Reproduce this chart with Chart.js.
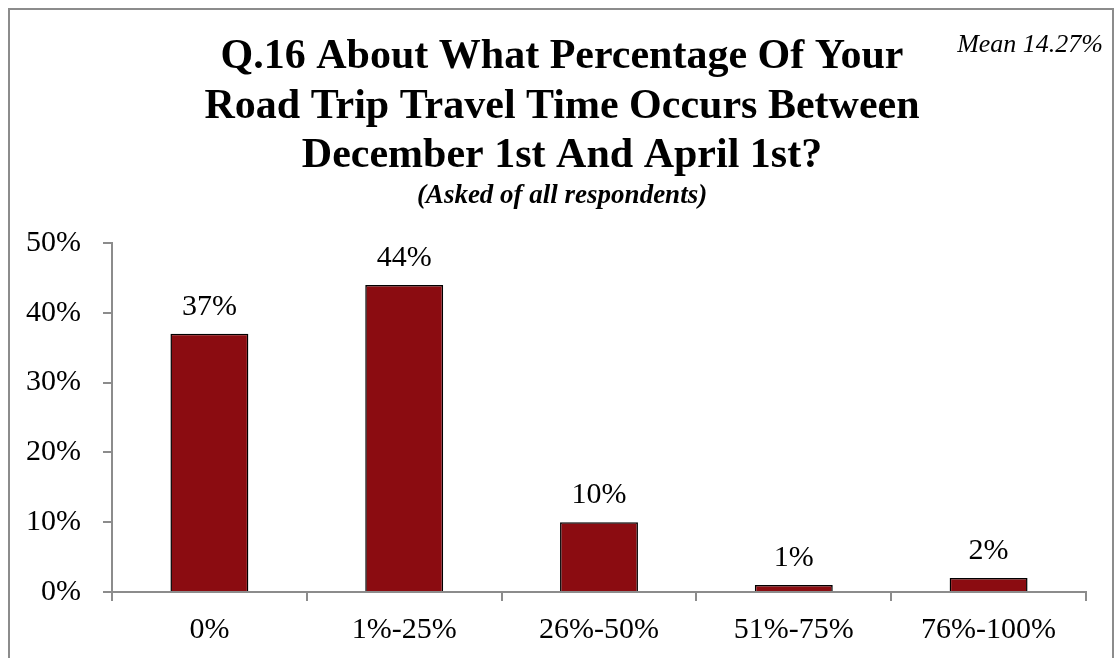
<!DOCTYPE html>
<html lang="en">
<head>
    <meta charset="UTF-8">
    <title>Q.16 Road Trip Travel Time</title>
    <script src="https://cdn.jsdelivr.net/npm/chart.js"></script>
    <style>
        html, body {
            margin: 0;
            padding: 0;
            background: #fff;
        }
        .chart-box {
            width: 1119px;
            height: 658px;
        }
    </style>
</head>
<body>
    <div class="chart-box">
        <canvas id="myBarChart" width="1119" height="658"></canvas>
    </div>

    <script>
        // chart data
        const categories = ['0%', '1%-25%', '26%-50%', '51%-75%', '76%-100%'];
        const percentValues = [37, 44, 10, 1, 2];
        const yTicks = [0, 10, 20, 30, 40, 50];
        const titleLines = ['Q.16 About What Percentage Of Your', 'Road Trip Travel Time Occurs Between', 'December 1st And April 1st?'];
        const subtitle = '(Asked of all respondents)';
        const meanText = 'Mean 14.27%';

        const serif = '"Liberation Serif", "DejaVu Serif", serif';

        // frame, titles and value labels
        const decorations = {
            id: 'decorations',
            beforeDraw(chart) {
                const c = chart.ctx;
                c.save();
                c.fillStyle = '#fff';
                c.fillRect(0, 0, chart.width, chart.height);
                c.strokeStyle = '#8c8c8c';
                c.lineWidth = 2;
                c.strokeRect(9, 9, 1104, 700);
                c.restore();
            },
            afterDraw(chart) {
                const c = chart.ctx;
                c.save();
                c.fillStyle = '#000';
                c.textAlign = 'center';
                c.textBaseline = 'middle';
                c.font = 'bold 42px ' + serif;
                const ys = [57, 107, 156];
                titleLines.forEach((t, i) => c.fillText(t, 562, ys[i]));
                c.font = 'italic bold 27px ' + serif;
                c.fillText(subtitle, 562, 196);

                c.textAlign = 'right';
                c.font = 'italic 26px ' + serif;
                c.fillText(meanText, 1103, 45);

                // value labels above the bars
                c.textAlign = 'center';
                c.font = '30px ' + serif;
                const meta = chart.getDatasetMeta(0);
                meta.data.forEach((bar, i) => {
                    c.fillText(percentValues[i] + '%', bar.x, bar.y - 27);
                });
                c.restore();
            }
        };

        const ctx = document.getElementById('myBarChart').getContext('2d');
        const myBarChart = new Chart(ctx, {
            type: 'bar',
            data: {
                labels: categories,
                datasets: [{
                    label: 'Respondents',
                    data: percentValues,
                    backgroundColor: '#8b0c11',
                    borderColor: '#000',
                    borderWidth: 1.5,
                    barPercentage: 0.4,
                    categoryPercentage: 1.0
                }]
            },
            options: {
                responsive: false,
                animation: false,
                layout: {
                    padding: { top: 243, left: 0, right: 33, bottom: 0 }
                },
                plugins: {
                    legend: { display: false },
                    tooltip: { enabled: false }
                },
                scales: {
                    x: {
                        grid: {
                            offset: true,
                            drawOnChartArea: false,
                            drawTicks: true,
                            tickLength: 9,
                            color: '#8c8c8c',
                            lineWidth: 2
                        },
                        border: { color: '#8c8c8c', width: 2 },
                        ticks: {
                            color: '#000',
                            font: { family: serif, size: 30 },
                            padding: 11,
                            maxRotation: 0
                        },
                        afterFit(scale) { scale.height = 66; }
                    },
                    y: {
                        min: 0,
                        max: 50,
                        afterBuildTicks(scale) {
                            scale.ticks = yTicks.map(v => ({ value: v }));
                        },
                        grid: {
                            drawOnChartArea: false,
                            drawTicks: true,
                            tickLength: 9,
                            color: '#8c8c8c',
                            lineWidth: 2
                        },
                        border: { color: '#8c8c8c', width: 2 },
                        ticks: {
                            color: '#000',
                            font: { family: serif, size: 30 },
                            padding: 22,
                            callback: v => v + '%'
                        },
                        afterFit(scale) { scale.width = 112; }
                    }
                }
            },
            plugins: [decorations]
        });
    </script>
</body>
</html>
